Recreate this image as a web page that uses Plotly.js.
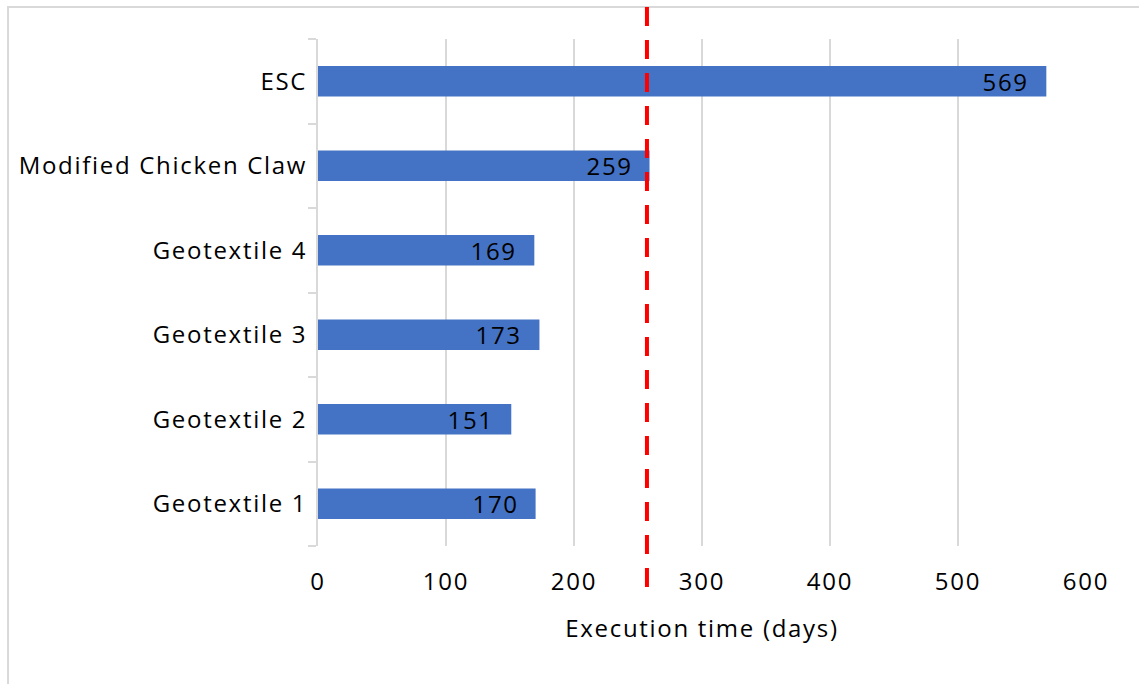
<!DOCTYPE html>
<html>
<head>
<meta charset="utf-8">
<script src="https://cdn.plot.ly/plotly-3.0.1.min.js"></script>
<style>
  html, body { margin: 0; padding: 0; background: #fff; }
  #chart { width: 1139px; height: 684px; }
  #chart text { letter-spacing: 1.7px; }
</style>
</head>
<body>
<div id="chart"></div>
<script>
// Execution time per erosion-control method, bottom to top
const categories = ['Geotextile 1', 'Geotextile 2', 'Geotextile 3', 'Geotextile 4', 'Modified Chicken Claw', 'ESC'];
const days = [170, 151, 173, 169, 259, 569];
const xTicks = [0, 100, 200, 300, 400, 500, 600];
const referenceDays = 257;

const FONT = 'Open Sans, DejaVu Sans, sans-serif';
const FS = 24;
const GRID = '#d9d9d9';

const bars = {
  type: 'bar',
  orientation: 'h',
  x: days,
  y: categories,
  width: 0.36,
  marker: { color: '#4472C4' },
  hoverinfo: 'x+y'
};

// value labels sitting just inside the end of each bar
const valueLabels = days.map((d, i) => ({
  x: d, y: categories[i], xref: 'x', yref: 'y',
  text: String(d), showarrow: false,
  xanchor: 'right', yanchor: 'middle', xshift: -18,
  font: { family: FONT, size: FS, color: '#000' }
}));

const layout = {
  width: 1139, height: 684,
  margin: { l: 318, r: 53, t: 39, b: 138 },
  paper_bgcolor: '#fff', plot_bgcolor: '#fff',
  showlegend: false,
  font: { family: FONT, size: FS, color: '#000' },
  xaxis: {
    range: [0, 600],
    tickvals: xTicks,
    ticktext: xTicks.map(String),
    showgrid: true, gridcolor: GRID, gridwidth: 2,
    zeroline: false, showline: false, ticks: '',
    ticklabelstandoff: 19,
    tickfont: { family: FONT, size: FS, color: '#000' },
    title: { text: 'Execution time (days)', standoff: 24, font: { family: FONT, size: FS, color: '#000' } },
    automargin: false, fixedrange: true
  },
  yaxis: {
    type: 'category',
    categoryorder: 'array', categoryarray: categories,
    range: [-0.5, 5.5],
    tickson: 'boundaries',
    ticks: 'outside', ticklen: 8, tickwidth: 2, tickcolor: GRID,
    showline: true, linecolor: GRID, linewidth: 2,
    showgrid: false, zeroline: false,
    ticklabelstandoff: 4,
    tickfont: { family: FONT, size: FS, color: '#000' },
    automargin: false, fixedrange: true
  },
  shapes: [
    // light frame around the figure
    { type: 'rect', xref: 'paper', yref: 'paper', layer: 'below',
      x0: -0.4036, x1: 1.08, y0: 1.063, y1: -0.29,
      line: { color: GRID, width: 2 }, fillcolor: 'rgba(0,0,0,0)' },
    // reference line
    { type: 'line', xref: 'x', yref: 'paper',
      x0: referenceDays, x1: referenceDays, y0: 1.063, y1: -0.087,
      line: { color: '#FF0000', width: 4, dash: '19px,14px' } }
  ],
  annotations: valueLabels,
  bargap: 0.64
};

Plotly.newPlot('chart', [bars], layout, { displayModeBar: false });
</script>
</body>
</html>
